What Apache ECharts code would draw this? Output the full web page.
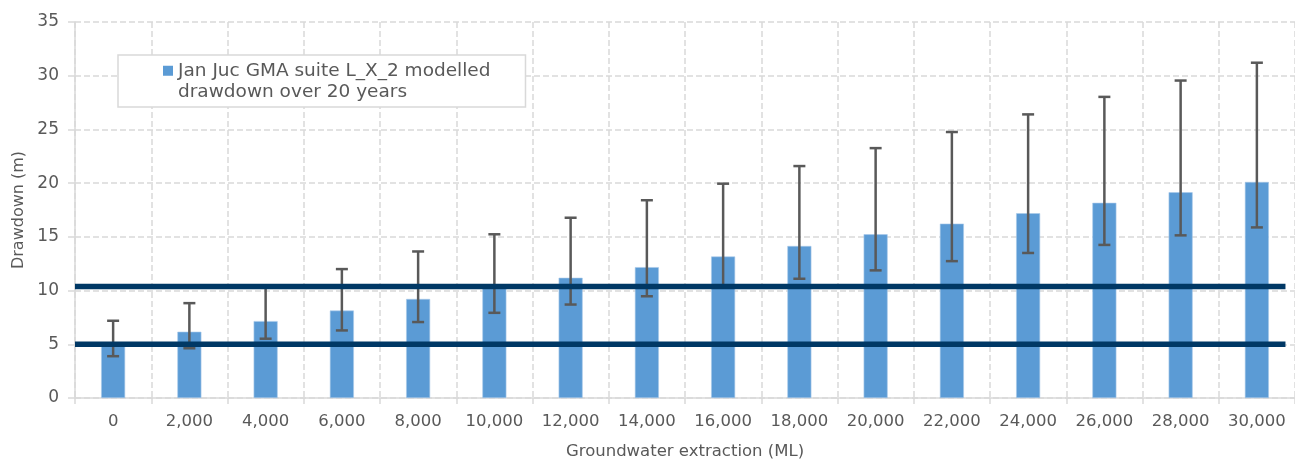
<!DOCTYPE html>
<html>
<head>
<meta charset="utf-8">
<script src="https://cdn.jsdelivr.net/npm/echarts@6/dist/echarts.min.js"></script>
<style>
  html, body { margin: 0; padding: 0; background: #ffffff; }
  #chart { width: 1295px; height: 465px; }
</style>
</head>
<body>
<div id="chart"></div>
<script>
// Groundwater extraction scenarios (ML)
const categories = ['0', '2,000', '4,000', '6,000', '8,000', '10,000', '12,000', '14,000',
  '16,000', '18,000', '20,000', '22,000', '24,000', '26,000', '28,000', '30,000'];

// Modelled drawdown after 20 years (m)
const drawdown = [5.15, 6.17, 7.16, 8.14, 9.22, 10.2, 11.19, 12.18,
  13.17, 14.15, 15.24, 16.23, 17.2, 18.17, 19.15, 20.11];

// Uncertainty range of the modelled drawdown (m)
const drawdownLow = [3.89, 4.63, 5.52, 6.29, 7.07, 7.93, 8.7, 9.47,
  10.3, 11.1, 11.88, 12.74, 13.5, 14.25, 15.14, 15.88];
const drawdownHigh = [7.19, 8.83, 10.3, 12.0, 13.64, 15.24, 16.78, 18.41,
  19.95, 21.59, 23.26, 24.76, 26.4, 28.03, 29.55, 31.21];

// Reference drawdown levels (m) and the extraction span they are drawn across (ML)
const referenceLevels = [5.0, 10.38];
const referenceSpan = [-1000, 30750];

const yTicks = { min: 0, max: 35, interval: 5 };

const seriesName = 'Jan Juc GMA suite L_X_2 modelled\ndrawdown over 20 years';

const textColor = '#595959';
const gridColor = '#d9d9d9';
const fontFamily = '"DejaVu Sans", "Liberation Sans", Arial, sans-serif';

const chart = echarts.init(document.getElementById('chart'));

const errorData = categories.map((c, i) => [i, drawdownLow[i], drawdownHigh[i]]);

const referenceSeries = referenceLevels.map((level, k) => ({
  type: 'line',
  name: 'level' + k,
  xAxisIndex: 1,
  yAxisIndex: 0,
  data: referenceSpan.map(x => [x, level]),
  symbol: 'none',
  silent: true,
  lineStyle: { color: '#003865', width: 5.5 },
  z: 5
}));

chart.setOption({
  animation: false,
  backgroundColor: '#ffffff',
  textStyle: { fontFamily: fontFamily, color: textColor },
  grid: { left: 75, right: -2, top: 22, bottom: 64, containLabel: false },
  legend: {
    left: 118,
    top: 55,
    orient: 'vertical',
    padding: [5, 35, 4, 45],
    backgroundColor: '#ffffff',
    borderColor: gridColor,
    borderWidth: 1.5,
    itemWidth: 10,
    itemHeight: 43,
    itemStyle: { borderWidth: 0 },
    textStyle: { fontFamily: fontFamily, fontSize: 18.5, color: textColor, lineHeight: 21.5 },
    data: [{
      name: seriesName,
      icon: 'path://M0,0L10,0M0,5.75L10,5.75L10,15.75L0,15.75ZM0,43L10,43'
    }],
    selectedMode: false
  },
  xAxis: [{
    type: 'category',
    data: categories,
    boundaryGap: true,
    name: 'Groundwater extraction (ML)',
    nameLocation: 'middle',
    nameGap: 45,
    nameTextStyle: { fontFamily: fontFamily, fontSize: 16.5, color: textColor },
    axisLine: { show: true, lineStyle: { color: gridColor, width: 1.5 } },
    axisTick: { show: true, length: 6, lineStyle: { color: gridColor, width: 1.5 } },
    axisLabel: { fontFamily: fontFamily, fontSize: 16.5, color: textColor, margin: 15, interval: 0 },
    splitLine: { show: true, lineStyle: { color: gridColor, width: 1.5, type: [6, 3] } }
  }, {
    type: 'value',
    min: -1000,
    max: 31000,
    show: false
  }],
  yAxis: [{
    type: 'value',
    min: yTicks.min,
    max: yTicks.max,
    interval: yTicks.interval,
    name: 'Drawdown (m)',
    nameLocation: 'middle',
    nameGap: 48,
    nameRotate: 90,
    nameTextStyle: { fontFamily: fontFamily, fontSize: 16, color: textColor },
    axisLine: { show: true, onZero: false, lineStyle: { color: gridColor, width: 1.5 } },
    axisTick: { show: true, length: 7, lineStyle: { color: gridColor, width: 1.5 } },
    axisLabel: { fontFamily: fontFamily, fontSize: 17, color: textColor, margin: 16 },
    splitLine: { show: true, lineStyle: { color: gridColor, width: 1.5, type: [6, 3] } }
  }],
  series: [{
    type: 'bar',
    name: seriesName,
    data: drawdown,
    barWidth: 24,
    itemStyle: { color: '#5b9bd5', borderColor: '#a9c9ea', borderWidth: 0.6 },
    z: 2
  }, {
    type: 'custom',
    name: 'range',
    data: errorData,
    encode: { x: 0, y: [1, 2] },
    silent: true,
    z: 3,
    renderItem: function (params, api) {
      const idx = api.value(0);
      const lo = api.coord([idx, api.value(1)]);
      const hi = api.coord([idx, api.value(2)]);
      const half = 6;
      const style = { stroke: '#595959', lineWidth: 2.5, fill: null };
      return {
        type: 'group',
        children: [
          { type: 'line', shape: { x1: lo[0], y1: hi[1], x2: lo[0], y2: lo[1] }, style: style },
          { type: 'line', shape: { x1: lo[0] - half, y1: hi[1], x2: lo[0] + half, y2: hi[1] }, style: style },
          { type: 'line', shape: { x1: lo[0] - half, y1: lo[1], x2: lo[0] + half, y2: lo[1] }, style: style }
        ]
      };
    }
  }].concat(referenceSeries)
});
</script>
</body>
</html>
